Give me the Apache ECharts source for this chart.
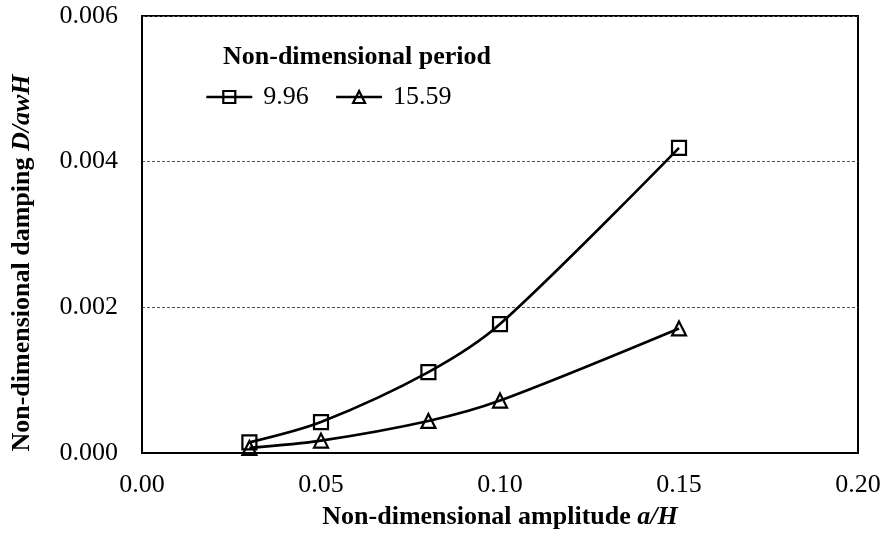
<!DOCTYPE html>
<html>
<head>
<meta charset="utf-8">
<script src="https://cdn.jsdelivr.net/npm/echarts@6/dist/echarts.min.js"></script>
<style>
  html, body { margin: 0; padding: 0; background: #fff; }
  #chart { width: 885px; height: 535px; }
</style>
</head>
<body>
<div id="chart"></div>
<script>
// Amplitude values (a/H)
var amplitudes = [0.03, 0.05, 0.08, 0.10, 0.15];
// Non-dimensional damping for each period
var damping996 = [0.000146, 0.000425, 0.00111, 0.00177, 0.00419];
var damping1559 = [0.00007, 0.00017, 0.00044, 0.00072, 0.00171];
var seriesNames = ['9.96', '15.59'];

var FONT = '"Liberation Serif", "Times New Roman", serif';
var FS = 26;

function pairs(xs, ys) {
  return xs.map(function (x, i) { return [x, ys[i]]; });
}

var richTitle = {
  b: { fontFamily: FONT, fontSize: FS, fontWeight: 'bold', fill: '#000', color: '#000' },
  bi: { fontFamily: FONT, fontSize: FS, fontWeight: 'bold', fontStyle: 'italic', fill: '#000', color: '#000' }
};

var chart = echarts.init(document.getElementById('chart'), null, { renderer: 'canvas' });

var lineStyle = { color: '#000', width: 2.6 };
var markerStyle = { color: 'none', borderColor: '#000', borderWidth: 2.2 };

chart.setOption({
  backgroundColor: '#fff',
  animation: false,
  textStyle: { fontFamily: FONT, color: '#000' },
  title: {
    text: 'Non-dimensional period',
    left: 218, top: 39,
    textStyle: { fontFamily: FONT, fontSize: FS, fontWeight: 'bold', color: '#000' }
  },
  legend: {
    data: seriesNames,
    left: 200, top: 79,
    itemWidth: 46, itemHeight: 15, itemGap: 26,
    lineStyle: { width: 2.6, color: '#000' },
    itemStyle: { color: 'none', borderColor: '#000', borderWidth: 2.2 },
    textStyle: { fontFamily: FONT, fontSize: FS, color: '#000', padding: [0, 0, 0, 6] }
  },
  grid: { left: 142, right: 27, top: 16, bottom: 81, show: true, borderColor: '#000', borderWidth: 2, backgroundColor: 'transparent' },
  xAxis: {
    type: 'value', min: 0, max: 0.2, interval: 0.05,
    axisLine: { show: true, lineStyle: { color: '#000', width: 2 } },
    axisTick: { show: false },
    splitLine: { show: false },
    axisLabel: { fontFamily: FONT, fontSize: FS, color: '#000', margin: 19,
      formatter: function (v) { return v.toFixed(2); } },
    name: '{b|Non-dimensional amplitude }{bi|a/H}',
    nameLocation: 'middle', nameGap: 51,
    nameTextStyle: { rich: richTitle }
  },
  yAxis: {
    type: 'value', min: 0, max: 0.006, interval: 0.002,
    axisLine: { show: true, lineStyle: { color: '#000', width: 2 } },
    axisTick: { show: false },
    splitLine: { show: true, lineStyle: { color: '#555', width: 1, type: [3, 2] } },
    axisLabel: { fontFamily: FONT, fontSize: FS, color: '#000', margin: 24,
      formatter: function (v) { return v.toFixed(3); } }
  },
  graphic: [{
    type: 'text',
    x: 22, y: 263,
    rotation: Math.PI / 2,
    style: {
      text: '{b|Non-dimensional damping }{bi|D/awH}',
      rich: richTitle,
      align: 'center', verticalAlign: 'middle'
    }
  }],
  series: [
    {
      name: seriesNames[0], type: 'line', data: pairs(amplitudes, damping996),
      smooth: 0.3, symbol: 'rect', symbolSize: 14, showAllSymbol: true,
      lineStyle: lineStyle, itemStyle: markerStyle
    },
    {
      name: seriesNames[1], type: 'line', data: pairs(amplitudes, damping1559),
      smooth: 0.3, symbol: 'triangle', symbolSize: 14, showAllSymbol: true,
      lineStyle: lineStyle, itemStyle: markerStyle
    }
  ]
});
</script>
</body>
</html>
